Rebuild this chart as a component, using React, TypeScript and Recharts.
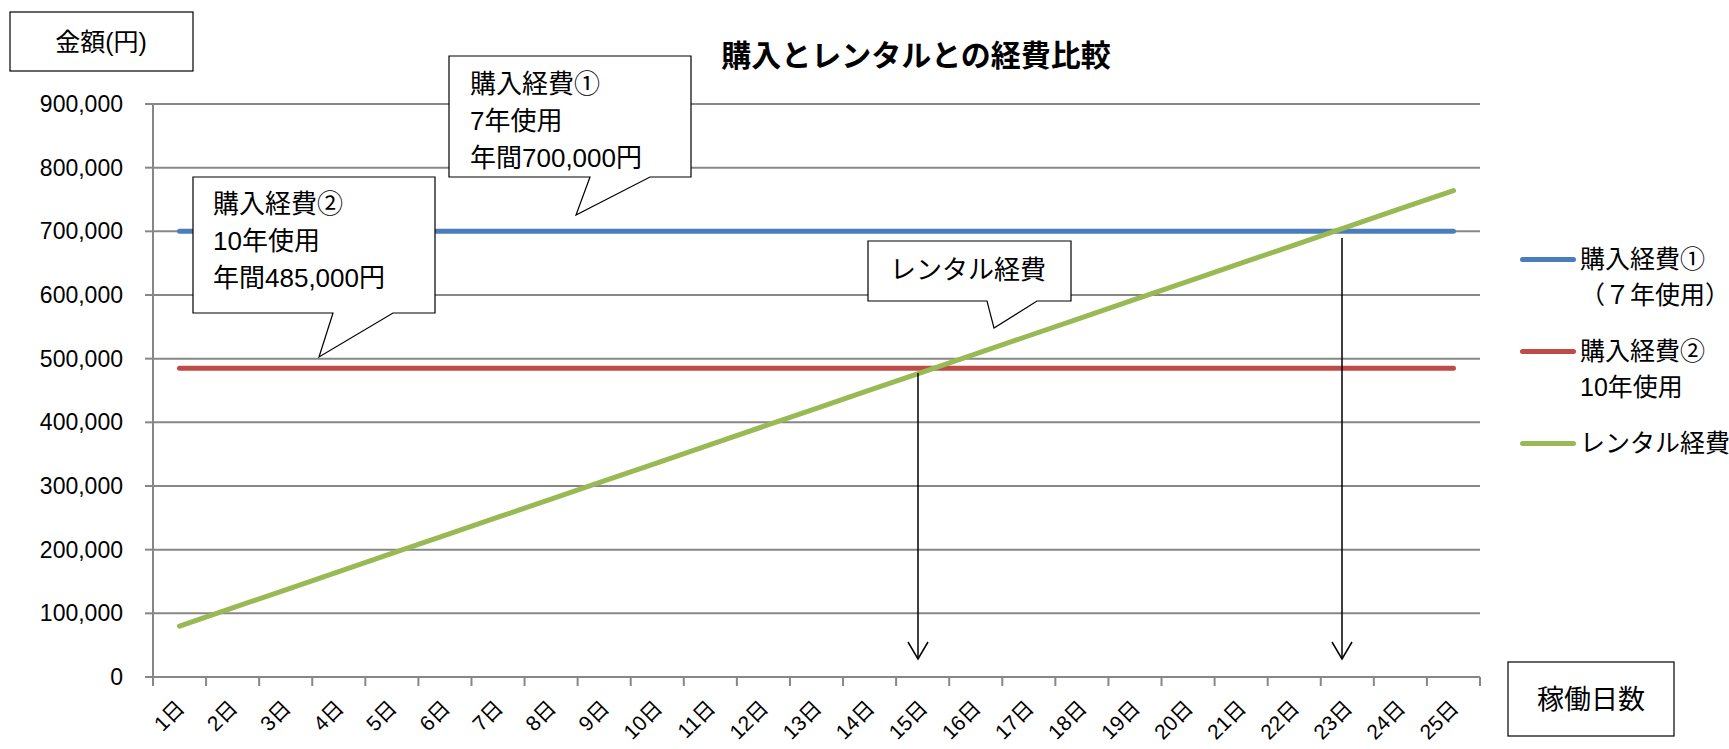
import { LineChart, Line, XAxis, YAxis, CartesianGrid, Legend } from 'recharts';

const days = [
  '1日', '2日', '3日', '4日', '5日', '6日', '7日', '8日', '9日', '10日',
  '11日', '12日', '13日', '14日', '15日', '16日', '17日', '18日', '19日', '20日',
  '21日', '22日', '23日', '24日', '25日',
];
const purchase7 = [
  700000, 700000, 700000, 700000, 700000, 700000, 700000, 700000, 700000, 700000,
  700000, 700000, 700000, 700000, 700000, 700000, 700000, 700000, 700000, 700000,
  700000, 700000, 700000, 700000, 700000,
];
const purchase10 = [
  485000, 485000, 485000, 485000, 485000, 485000, 485000, 485000, 485000, 485000,
  485000, 485000, 485000, 485000, 485000, 485000, 485000, 485000, 485000, 485000,
  485000, 485000, 485000, 485000, 485000,
];
const rental = [
  80000, 108500, 137000, 165500, 194000, 222500, 251000, 279500, 308000, 336500,
  365000, 393500, 422000, 450500, 479000, 507500, 536000, 564500, 593000, 621500,
  650000, 678500, 707000, 735500, 764000,
];
const yTicks = [0, 100000, 200000, 300000, 400000, 500000, 600000, 700000, 800000, 900000];
const seriesOrder = ['p7', 'p10', 'rent'];

const data = days.map((d, i) => ({
  day: d,
  p7: purchase7[i],
  p10: purchase10[i],
  rent: rental[i],
}));

const FONT = '"Liberation Sans", "Noto Sans CJK JP", sans-serif';
const GRID = '#878787';
const BAND = (1480 - 153) / 25;

function DayTick(props: any) {
  const { x, y, payload, index } = props;
  return (
    <g>
      <line x1={x - BAND / 2} y1={y} x2={x - BAND / 2} y2={y + 9} stroke={GRID} strokeWidth={2} />
      {index === days.length - 1 && (
        <line x1={x + BAND / 2} y1={y} x2={x + BAND / 2} y2={y + 9} stroke={GRID} strokeWidth={2} />
      )}
      <text
        transform={`translate(${x + 1},${y + 27}) rotate(-45)`}
        textAnchor="end"
        dominantBaseline="central"
        fontSize={21}
        fontFamily={FONT}
        fill="#000"
      >
        {payload.value}
      </text>
    </g>
  );
}

function LegendBox(props: any) {
  const items = [...(props.payload || [])].sort(
    (a: any, b: any) => seriesOrder.indexOf(a.dataKey) - seriesOrder.indexOf(b.dataKey)
  );
  let top = 0;
  return (
    <div style={{ position: 'relative', fontFamily: FONT, fontSize: 25, color: '#000' }}>
      {items.map((item: any) => {
        const lines = String(item.value).split('\n');
        const t = top;
        top += lines.length * 36 + 20;
        return (
          <div key={item.value} style={{ position: 'absolute', left: 0, top: t, whiteSpace: 'nowrap' }}>
            <div style={{ position: 'absolute', left: 0, top: 16, width: 56, height: 5, borderRadius: 3, background: item.color }} />
            {lines.map((l, i) => (
              <div key={i} style={{ position: 'absolute', left: 60, top: i * 36, lineHeight: '36px' }}>
                {l}
              </div>
            ))}
          </div>
        );
      })}
    </div>
  );
}

function Callout({ d, x, y, lines, size }: { d: string; x: number; y: number; lines: string[]; size: number }) {
  return (
    <g>
      <path d={d} fill="#fff" stroke="#000" strokeWidth={1.2} />
      {lines.map((l, i) => (
        <text key={i} x={x} y={y + i * 37} fontSize={size} fontFamily={FONT} dominantBaseline="central" fill="#000">
          {l}
        </text>
      ))}
    </g>
  );
}

function Arrow({ x, y1, y2 }: { x: number; y1: number; y2: number }) {
  return (
    <g stroke="#000" strokeWidth={1.5} fill="none">
      <line x1={x} y1={y1} x2={x} y2={y2} />
      <polyline points={`${x - 10},${y2 - 17} ${x},${y2} ${x + 10},${y2 - 17}`} />
    </g>
  );
}

export default function App() {
  return (
    <div style={{ position: 'absolute', left: 0, top: 0, width: 1729, height: 749, background: '#fff' }}>
      <LineChart width={1729} height={749} data={data} margin={{ top: 104, right: 249, bottom: 0, left: 0 }}>
        <CartesianGrid vertical={false} stroke={GRID} strokeWidth={2} />
        <XAxis
          dataKey="day"
          height={72}
          interval={0}
          padding={{ left: BAND / 2, right: BAND / 2 }}
          axisLine={{ stroke: GRID, strokeWidth: 2 }}
          tickLine={false}
          tickSize={0}
          tickMargin={0}
          tick={<DayTick />}
        />
        <YAxis
          width={153}
          domain={[0, 900000]}
          ticks={yTicks}
          interval={0}
          axisLine={{ stroke: GRID, strokeWidth: 2 }}
          tickLine={{ stroke: GRID, strokeWidth: 2 }}
          tickSize={8}
          tickMargin={22}
          tick={{ fontSize: 23, fontFamily: FONT, fill: '#000' }}
          tickFormatter={(v: number) => v.toLocaleString('en-US')}
        />
        <Line dataKey="p7" name={'購入経費①\n（７年使用）'} stroke="#4A7EBB" strokeWidth={5} strokeLinecap="round" dot={false} isAnimationActive={false} />
        <Line dataKey="p10" name={'購入経費②\n10年使用'} stroke="#BE4B48" strokeWidth={5} strokeLinecap="round" dot={false} isAnimationActive={false} />
        <Line dataKey="rent" name="レンタル経費" stroke="#98B954" strokeWidth={5} strokeLinecap="round" dot={false} isAnimationActive={false} />
        <Legend
          layout="vertical"
          align="right"
          verticalAlign="middle"
          content={<LegendBox />}
          wrapperStyle={{ left: 1520, top: 241, width: 0, height: 0, overflow: 'visible' }}
        />
      </LineChart>
      <svg width={1729} height={749} style={{ position: 'absolute', left: 0, top: 0, pointerEvents: 'none' }}>
        <text x={916} y={55} textAnchor="middle" dominantBaseline="central" fontSize={30} fontWeight="bold" fontFamily={FONT}>
          購入とレンタルとの経費比較
        </text>
        <rect x={10} y={12} width={183} height={59} fill="#fff" stroke="#000" strokeWidth={1.2} />
        <text x={101} y={42} textAnchor="middle" dominantBaseline="central" fontSize={25} fontFamily={FONT}>
          金額(円)
        </text>
        <rect x={1508} y={662} width={166} height={74} fill="#fff" stroke="#000" strokeWidth={1.2} />
        <text x={1591} y={700} textAnchor="middle" dominantBaseline="central" fontSize={27} fontFamily={FONT}>
          稼働日数
        </text>
        <Callout d="M449,56 H691 V177 H650 L576,215 L590,177 H449 Z" x={470} y={84} size={26} lines={['購入経費①', '7年使用', '年間700,000円']} />
        <Callout d="M193,177 H435 V313 H393 L319,357 L333,313 H193 Z" x={213} y={204} size={26} lines={['購入経費②', '10年使用', '年間485,000円']} />
        <Callout d="M868,241 H1071 V301 H1037 L994,328 L987,301 H868 Z" x={890} y={270} size={26} lines={['レンタル経費']} />
        <Arrow x={918} y1={373} y2={659} />
        <Arrow x={1342} y1={238} y2={659} />
      </svg>
    </div>
  );
}
